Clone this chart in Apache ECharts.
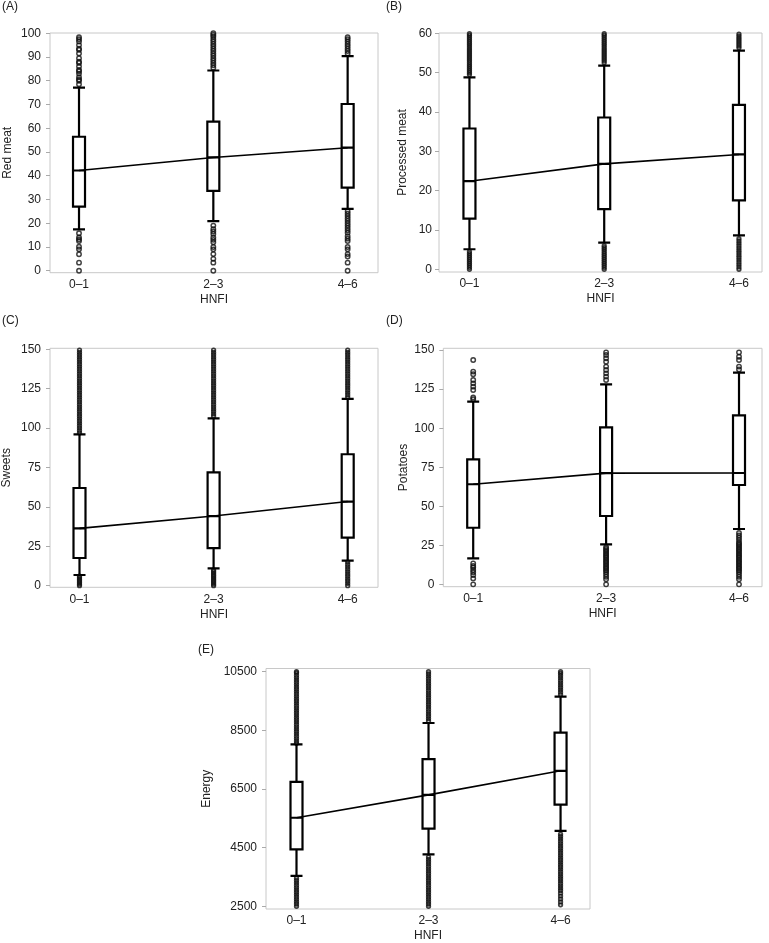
<!DOCTYPE html>
<html><head><meta charset="utf-8">
<script src="https://cdn.jsdelivr.net/npm/echarts@6/dist/echarts.min.js"></script>
<style>html,body{margin:0;padding:0;background:#fff}#c{width:769px;height:943px}</style>
</head><body><div id="c"></div>
<script>
// ---------- DATA ----------
const categories = ['0–1', '2–3', '4–6'];
const xAxisName = 'HNFI';

// (A) Red meat  : [lower whisker, Q1, median, Q3, upper whisker]
const redMeatBox = [[17.4, 27, 42.2, 56.4, 77.1], [20.9, 33.6, 47.7, 62.8, 84.3], [26, 35, 51.8, 70.2, 90.4]];
const redMeatLine = [42.2, 47.7, 51.8];
const redMeatTicks = [0, 10, 20, 30, 40, 50, 60, 70, 80, 90, 100];
const redMeatOut01 = [78.5, 80, 80.5, 81.5, 83, 84, 84.5, 86, 87.5, 88, 89.5, 91.5, 93, 93.5, 95, 96.5, 97.5, 98.3, 15.8, 14, 13.2, 12.5, 10.1, 9, 6.9, 3.4, 0];
const redMeatOut23 = [85.5, 86.5, 87.5, 88.5, 89.5, 90.5, 91.5, 92.5, 93.5, 94.5, 95.5, 96.5, 97.5, 98.5, 99.3, 100, 19, 17.5, 16.5, 15.5, 14, 13, 12, 10, 9, 7, 5, 3.4, 0];
const redMeatOut46 = [91.5, 92.5, 93.5, 94.5, 95.5, 96.5, 97.5, 98.3, 25, 24, 23, 22, 21, 20, 19, 18, 17, 16, 14.5, 13.5, 12.5, 10, 9, 7, 6, 3.4, 0];

// (B) Processed meat
const procMeatBox = [[5.1, 12.9, 22.4, 35.8, 48.8], [6.8, 15.3, 26.8, 38.6, 51.8], [8.6, 17.5, 29.2, 41.8, 55.6]];
const procMeatLine = [22.4, 26.8, 29.2];
const procMeatTicks = [0, 10, 20, 30, 40, 50, 60];
const procMeatOut01 = [49.5, 50, 50.5, 51, 51.5, 52, 52.5, 53, 53.5, 54, 54.5, 55, 55.5, 56, 56.5, 57, 57.5, 58, 58.5, 59, 59.5, 59.9, 0, 0.5, 1, 1.5, 2, 2.5, 3, 3.5, 4, 4.5];
const procMeatOut23 = [52.5, 53, 53.5, 54, 54.5, 55, 55.5, 56, 56.5, 57, 57.5, 58, 58.5, 59, 59.5, 59.9, 0, 0.5, 1, 1.5, 2, 2.5, 3, 3.5, 4, 4.5, 5, 5.5, 6];
const procMeatOut46 = [56.3, 56.8, 57.3, 57.8, 58.3, 58.8, 59.3, 59.8, 0, 0.6, 1.2, 1.8, 2.4, 3, 3.6, 4.2, 4.8, 5.4, 6, 6.6, 7.2, 7.8];

// (C) Sweets
const sweetsBox = [[6.8, 17.6, 36.4, 62, 96], [11, 23.9, 44.2, 71.9, 106.2], [15.9, 30.5, 53.4, 83.4, 118.5]];
const sweetsLine = [36.4, 44.2, 53.4];
const sweetsTicks = [0, 25, 50, 75, 100, 125, 150];
const sweetsOut01 = [97, 98.5, 100, 101.5, 103, 104.5, 106, 107.5, 109, 110.5, 112, 113.5, 115, 116.5, 118, 119.5, 121, 122.5, 124, 125.5, 127, 128.5, 130, 131.5, 133, 134.5, 136, 137.5, 139, 140.5, 142, 143.5, 145, 146.5, 148, 149.5, 0, 1, 2, 3, 4, 5, 6];
const sweetsOut23 = [107.5, 109, 110.5, 112, 113.5, 115, 116.5, 118, 119.5, 121, 122.5, 124, 125.5, 127, 128.5, 130, 131.5, 133, 134.5, 136, 137.5, 139, 140.5, 142, 143.5, 145, 146.5, 148, 149.5, 0, 1, 2, 3, 4, 5, 6, 7, 8, 9, 10];
const sweetsOut46 = [119.5, 121, 122.5, 124, 125.5, 127, 128.5, 130, 131.5, 133, 134.5, 136, 137.5, 139, 140.5, 142, 143.5, 145, 146.5, 148, 149.5, 0, 1.5, 3, 4.5, 6, 7.5, 9, 10.5, 12, 13.5, 15];

// (D) Potatoes
const potatoesBox = [[16.8, 36.4, 64.2, 80.1, 117], [25.8, 43.9, 71.3, 100.6, 128], [35.6, 63.7, 71.4, 108.2, 135.5]];
const potatoesLine = [64.2, 71.3, 71.4];
const potatoesTicks = [0, 25, 50, 75, 100, 125, 150];
const potatoesOut01 = [143.6, 136.2, 134.5, 130.8, 128.7, 126.6, 124.4, 119.7, 118.5, 13.6, 11.9, 10.9, 9.4, 7.9, 6.2, 4, 0.2];
const potatoesOut23 = [148.5, 146.8, 144.7, 142.5, 139.4, 137.2, 135.1, 133, 130.8, 24, 23, 22, 21, 20, 19, 18, 17, 16, 15, 14, 13, 12, 11, 10, 9, 8, 6.5, 5, 3.5, 0.2];
const potatoesOut46 = [148.5, 145.7, 143.6, 139.4, 137.5, 33, 31.5, 30, 28.5, 27, 26, 25, 24, 23, 22, 21, 20, 19, 18, 17, 16, 15, 14, 13, 12, 11, 10, 9, 8, 6.5, 5, 3.5, 0.2];

// (E) Energy
const energyBox = [[3540, 4440, 5520, 6740, 8020], [4270, 5150, 6300, 7520, 8750], [5070, 5970, 7120, 8420, 9650]];
const energyLine = [5520, 6300, 7120];
const energyTicks = [2500, 4500, 6500, 8500, 10500];
const energyOut01 = [8060, 8140, 8220, 8300, 8380, 8460, 8540, 8620, 8700, 8780, 8860, 8940, 9020, 9100, 9180, 9260, 9340, 9420, 9500, 9580, 9660, 9740, 9820, 9900, 9980, 10060, 10140, 10220, 10300, 10380, 10460, 10500, 2500, 2580, 2660, 2740, 2820, 2900, 2980, 3060, 3140, 3220, 3300, 3380, 3460];
const energyOut23 = [8820, 8900, 8980, 9060, 9140, 9220, 9300, 9380, 9460, 9540, 9620, 9700, 9780, 9860, 9940, 10020, 10100, 10180, 10260, 10340, 10420, 10500, 2500, 2580, 2660, 2740, 2820, 2900, 2980, 3060, 3140, 3220, 3300, 3380, 3460, 3540, 3620, 3700, 3780, 3860, 3940, 4020, 4100, 4180];
const energyOut46 = [9720, 9800, 9880, 9960, 10040, 10120, 10200, 10280, 10360, 10440, 10500, 2550, 2650, 2750, 2850, 2950, 3040, 3120, 3200, 3280, 3360, 3440, 3520, 3600, 3680, 3760, 3840, 3920, 4000, 4080, 4160, 4240, 4320, 4400, 4480, 4560, 4640, 4720, 4800, 4880, 4960];

// ---------- PANELS (data refs) ----------
const panels = [
  { label: '(A)', yName: 'Red meat', box: redMeatBox, line: redMeatLine, ticks: redMeatTicks, out: [redMeatOut01, redMeatOut23, redMeatOut46] },
  { label: '(B)', yName: 'Processed meat', box: procMeatBox, line: procMeatLine, ticks: procMeatTicks, out: [procMeatOut01, procMeatOut23, procMeatOut46] },
  { label: '(C)', yName: 'Sweets', box: sweetsBox, line: sweetsLine, ticks: sweetsTicks, out: [sweetsOut01, sweetsOut23, sweetsOut46] },
  { label: '(D)', yName: 'Potatoes', box: potatoesBox, line: potatoesLine, ticks: potatoesTicks, out: [potatoesOut01, potatoesOut23, potatoesOut46] },
  { label: '(E)', yName: 'Energy', box: energyBox, line: energyLine, ticks: energyTicks, out: [energyOut01, energyOut23, energyOut46] }
];

// ---------- LAYOUT (styles / positions) ----------
const layouts = [
  { left: 50, top: 33, width: 328, height: 239.7, ymin: -0.84, ymax: 100.1, xmin: -0.216, xmax: 2.226, nameGap: 36, labMargin: 9, tLeft: 2, tTop: 1, dot: 4.4, dotW: 1.5 },
  { left: 439, top: 33, width: 323, height: 239, ymin: -0.69, ymax: 60.08, xmin: -0.226, xmax: 2.171, nameGap: 30, labMargin: 7, tLeft: 386, tTop: 1, dot: 3.6, dotW: 1.7 },
  { left: 49.5, top: 348.3, width: 328.5, height: 239, ymin: -1.0, ymax: 150.6, xmin: -0.22, xmax: 2.226, nameGap: 37, labMargin: 9, tLeft: 2, tTop: 315, dot: 3.6, dotW: 1.7 },
  { left: 443.3, top: 348.3, width: 318.7, height: 238.4, ymin: -1.3, ymax: 151.1, xmin: -0.225, xmax: 2.173, nameGap: 34, labMargin: 9, tLeft: 386, tTop: 315, dot: 4.4, dotW: 1.5 },
  { left: 266, top: 668.5, width: 324, height: 242.5, ymin: 2409, ymax: 10608, xmin: -0.231, xmax: 2.223, nameGap: 53, labMargin: 9, tLeft: 198, tTop: 644, dot: 3.6, dotW: 1.7 }
];

const FONT = "'Liberation Sans', Arial, Helvetica, sans-serif";
const TXT = '#222';

const option = { animation: false, backgroundColor: '#fff', title: [], grid: [], xAxis: [], yAxis: [], series: [] };

panels.forEach((p, i) => {
  const L = layouts[i];
  option.title.push({ text: p.label, left: L.tLeft, top: L.tTop, padding: 0,
    textStyle: { fontSize: 12, fontWeight: 'normal', color: TXT, fontFamily: FONT } });
  option.grid.push({ left: L.left, top: L.top, width: L.width, height: L.height, show: true,
    borderColor: '#c8c8c8', borderWidth: 1, backgroundColor: 'transparent', containLabel: false });
  option.xAxis.push({ type: 'value', gridIndex: i, min: L.xmin, max: L.xmax,
    axisLine: { show: false, onZero: false }, axisTick: { show: false }, splitLine: { show: false },
    axisLabel: { customValues: [0, 1, 2], formatter: v => categories[Math.round(v)], margin: 6,
      fontSize: 12, color: TXT, fontFamily: FONT },
    name: xAxisName, nameLocation: 'middle', nameGap: 21,
    nameTextStyle: { fontSize: 12, color: TXT, fontFamily: FONT } });
  option.yAxis.push({ type: 'value', gridIndex: i, min: L.ymin, max: L.ymax,
    axisLine: { show: false, onZero: false }, splitLine: { show: false },
    axisTick: { show: true, customValues: p.ticks, length: 4, lineStyle: { color: '#aaa' } },
    axisLabel: { customValues: p.ticks, formatter: v => String(Math.round(v)), margin: L.labMargin,
      fontSize: 12, color: TXT, fontFamily: FONT },
    name: p.yName, nameLocation: 'middle', nameGap: L.nameGap,
    nameTextStyle: { fontSize: 12, color: TXT, fontFamily: FONT } });

  const outData = [];
  p.out.forEach((arr, ci) => arr.forEach(v => outData.push([ci, v])));
  option.series.push({ type: 'scatter', xAxisIndex: i, yAxisIndex: i, data: outData, silent: true,
    symbol: 'circle', symbolSize: L.dot, z: 1, large: false,
    itemStyle: { color: 'rgba(0,0,0,0)', borderColor: '#111', borderWidth: L.dotW } });
  option.series.push({ type: 'boxplot', xAxisIndex: i, yAxisIndex: i, silent: true, z: 2,
    data: p.box.map((b, ci) => [ci].concat(b)), encode: { x: 0, y: [1, 2, 3, 4, 5] },
    boxWidth: [12, 12],
    itemStyle: { color: '#fff', borderColor: '#000', borderWidth: 2.2 } });
  option.series.push({ type: 'line', xAxisIndex: i, yAxisIndex: i, silent: true, z: 3,
    data: p.line.map((v, ci) => [ci, v]), symbol: 'none',
    lineStyle: { color: '#000', width: 1.6 } });
});

const chart = echarts.init(document.getElementById('c'), null, { renderer: 'canvas' });
chart.setOption(option);
</script></body></html>
